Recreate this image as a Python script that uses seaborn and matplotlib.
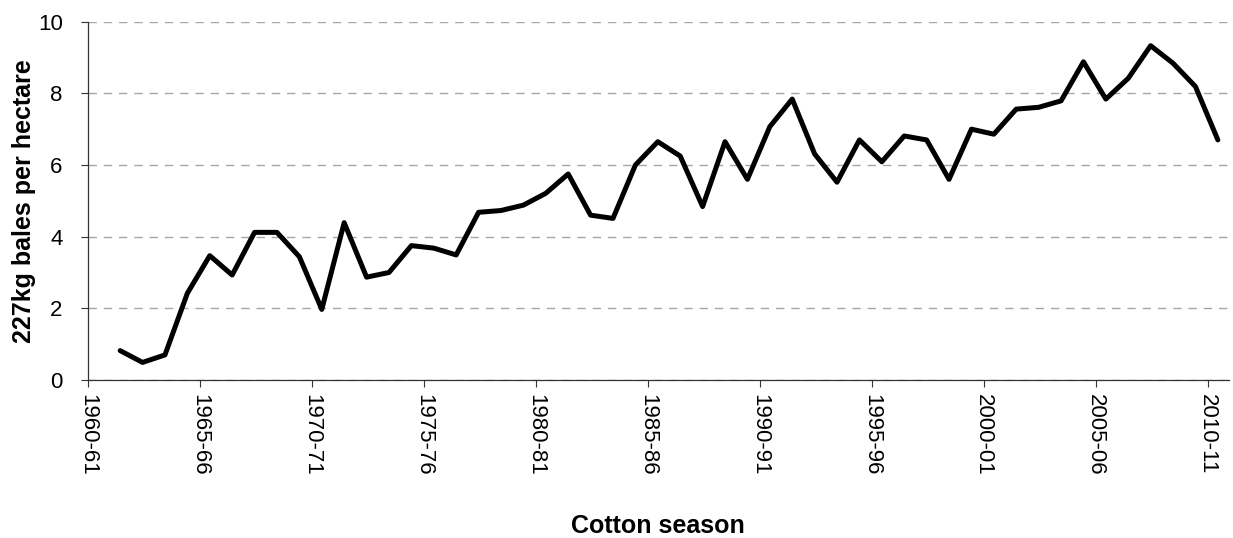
import numpy as np
import pandas as pd
import matplotlib
matplotlib.use("Agg")
import matplotlib.pyplot as plt
import seaborn as sns

# cotton season start years (1961-62 ... 2010-11)
years = list(range(1961, 2011))
# lint yield, 227kg bales per hectare
bales = [0.82, 0.49, 0.70, 2.42, 3.47, 2.93, 4.12, 4.12, 3.44, 1.97,
         4.39, 2.87, 3.00, 3.75, 3.68, 3.49, 4.68, 4.73, 4.88, 5.21,
         5.75, 4.60, 4.51, 6.00, 6.65, 6.25, 4.84, 6.65, 5.60, 7.07,
         7.84, 6.31, 5.52, 6.70, 6.09, 6.81, 6.70, 5.60, 7.00, 6.86,
         7.56, 7.61, 7.79, 8.88, 7.84, 8.42, 9.33, 8.84, 8.19, 6.70]
tick_years = list(range(1960, 2011, 5))
tick_labels = [f"{y}-{(y + 1) % 100:02d}" for y in tick_years]

df = pd.DataFrame({"season": years, "bales": bales})

sns.set_style("white")
plt.rcParams["font.family"] = ["Liberation Sans", "DejaVu Sans"]
plt.rcParams["text.color"] = "black"
plt.rcParams["axes.labelcolor"] = "black"
plt.rcParams["xtick.color"] = "black"
plt.rcParams["ytick.color"] = "black"

fig = plt.figure(figsize=(12.33, 5.38), dpi=100)
ax = fig.add_axes([0.0711, 0.2937, 0.9257, 0.666])

sns.lineplot(data=df, x="season", y="bales", color="black", linewidth=3.6, ax=ax)
ax.lines[0].set_solid_joinstyle("round")

# category ticks sit about half a season left of the points
shift = 0.45
ax.set_xticks([t - shift for t in tick_years])
ax.set_xticklabels(tick_labels, rotation=-90, fontsize=16)
ax.set_xlim(1960 - shift, 2010.5)
ax.set_ylim(0, 10)
ax.set_yticks(range(0, 11, 2))
ax.tick_params(axis="y", labelsize=16, length=5, width=0.8, pad=13, color="#333333")
ax.tick_params(axis="x", length=5, width=0.8, pad=5, color="#333333")
ax.tick_params(bottom=True, left=True)

ax.yaxis.grid(True, linestyle=(0, (6, 5)), color="#a6a6a6", linewidth=1)
ax.set_axisbelow(True)
sns.despine(ax=ax)
for s in ["left", "bottom"]:
    ax.spines[s].set_color("#333333")
    ax.spines[s].set_linewidth(0.9)

ax.set_xlabel("Cotton season", fontsize=18, fontweight="bold")
ax.set_ylabel("227kg bales per hectare", fontsize=18, fontweight="bold")
ax.yaxis.set_label_coords(-0.045, 0.5)
ax.xaxis.set_label_coords(0.5, -0.375)

fig.savefig("out.png", dpi=100)
